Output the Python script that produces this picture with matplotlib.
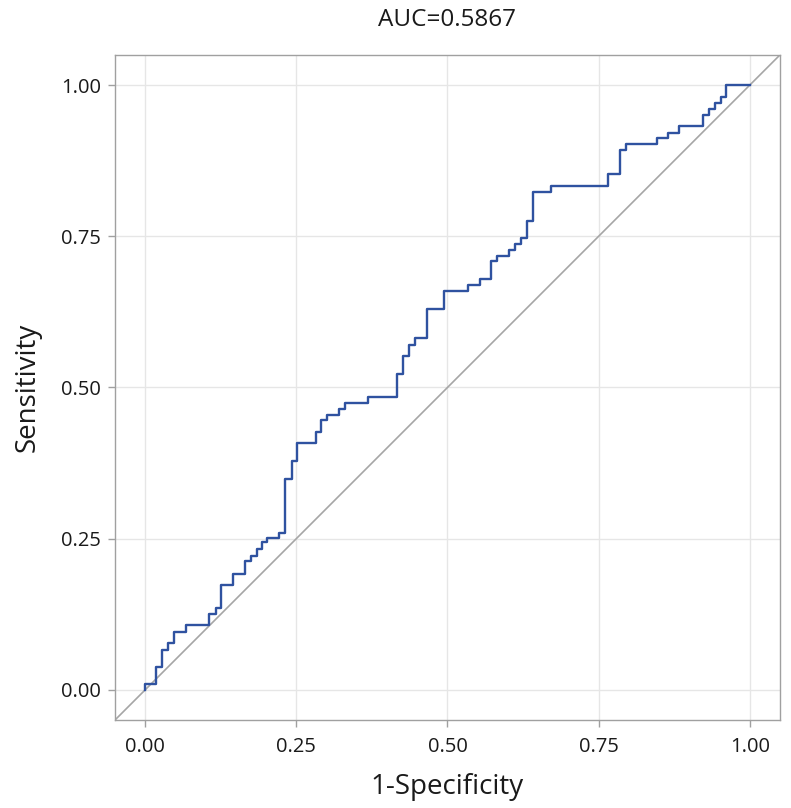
import matplotlib
matplotlib.use("Agg")
import matplotlib.pyplot as plt

plt.rcParams['font.family'] = ['Open Sans', 'DejaVu Sans']

title = "AUC=0.5867"
xlabel = "1-Specificity"
ylabel = "Sensitivity"
ticks = [0.0, 0.25, 0.5, 0.75, 1.0]
tick_labels = ["0.00", "0.25", "0.50", "0.75", "1.00"]

fpr = [0.0, 0.0, 0.018, 0.027, 0.037, 0.048, 0.068, 0.106, 0.117, 0.125, 0.145,
       0.165, 0.175, 0.185, 0.193, 0.201, 0.222, 0.231, 0.243, 0.251, 0.282,
       0.291, 0.300, 0.320, 0.330, 0.368, 0.417, 0.427, 0.437, 0.446, 0.466,
       0.495, 0.534, 0.553, 0.572, 0.582, 0.602, 0.612, 0.621, 0.631, 0.641,
       0.671, 0.766, 0.786, 0.795, 0.846, 0.865, 0.883, 0.923, 0.933, 0.942,
       0.952, 0.961, 1.0]
tpr = [0.0, 0.009, 0.038, 0.066, 0.078, 0.096, 0.107, 0.126, 0.136, 0.174, 0.192,
       0.213, 0.221, 0.233, 0.245, 0.251, 0.259, 0.349, 0.378, 0.408, 0.426,
       0.446, 0.455, 0.465, 0.475, 0.484, 0.523, 0.552, 0.571, 0.582, 0.630,
       0.660, 0.669, 0.679, 0.709, 0.717, 0.727, 0.738, 0.747, 0.776, 0.824,
       0.834, 0.853, 0.892, 0.903, 0.912, 0.921, 0.932, 0.950, 0.961, 0.970,
       0.980, 1.0, 1.0]

fig = plt.figure(figsize=(7.91, 8.08), dpi=100)
ax = fig.add_axes([0.1454, 0.1089, 0.8406, 0.8231])

lim = (-0.05, 1.05)
ax.set_xlim(lim)
ax.set_ylim(lim)
ax.plot(lim, lim, color='#a6a6a6', lw=1.2, zorder=2)
ax.step(fpr, tpr, where='post', color='#2f52a0', lw=1.7, zorder=3)

ax.set_xticks(ticks)
ax.set_xticklabels(tick_labels)
ax.set_yticks(ticks)
ax.set_yticklabels(tick_labels)
ax.grid(True, color='#e6e6e6', lw=1.0, zorder=0)
ax.set_axisbelow(True)
for s in ax.spines.values():
    s.set_color('#a0a0a0')
    s.set_linewidth(1.0)
ax.tick_params(colors='#a0a0a0', labelcolor='#1a1a1a', labelsize=14.5, length=5, width=1.0, pad=5)
ax.tick_params(axis='x', pad=7)

ax.set_xlabel(xlabel, fontsize=20, color='#1a1a1a', labelpad=12)
ax.set_ylabel(ylabel, fontsize=20, color='#1a1a1a', labelpad=14)
fig.text(0.5 * (0.1454 + 0.986), 1 - 20 / 808, title, ha='center', va='center',
         fontsize=17.5, color='#1a1a1a')

fig.savefig("out.png", dpi=100)
